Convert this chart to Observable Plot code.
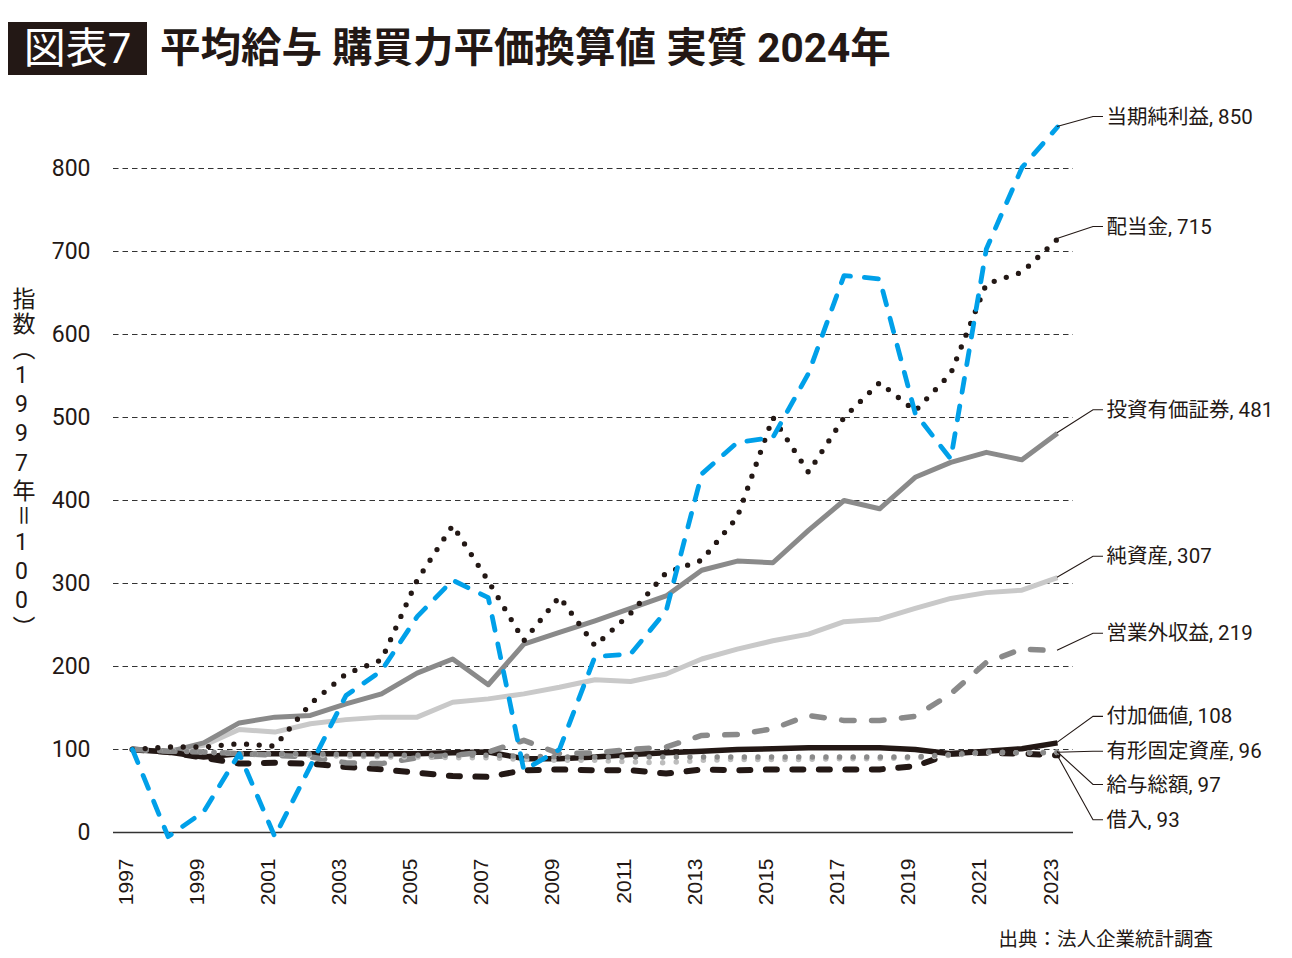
<!DOCTYPE html>
<html><head><meta charset="utf-8">
<script src="https://cdn.jsdelivr.net/npm/d3@7"></script>
<script src="https://cdn.jsdelivr.net/npm/@observablehq/plot@0.6"></script>
<style>
body{margin:0;background:#fff;}
#wrap{position:relative;width:1292px;height:958px;overflow:hidden;font-family:Roboto,"Noto Sans CJK JP",sans-serif;color:#231815;}
#title{position:relative;height:100px;}
.badge{position:absolute;left:8px;top:22px;width:139px;height:53px;background:#231815;color:#fff;font-size:42px;line-height:53px;text-align:center;font-family:Roboto,"Noto Sans CJK JP",sans-serif;}
.main{position:absolute;left:160px;top:22px;line-height:53px;font-size:40.5px;font-weight:700;white-space:nowrap;}
#ylabel{position:absolute;left:8px;top:287px;writing-mode:vertical-rl;text-orientation:upright;font-size:23px;letter-spacing:2.1px;line-height:26px;font-family:Roboto,"Noto Sans CJK JP",sans-serif;}
#caption{position:absolute;top:925px;right:79px;font-size:19.5px;line-height:26px;font-family:"Noto Sans CJK JP",sans-serif;}
#chart svg{display:block;}
</style>
</head><body>
<div id="wrap">
  <div id="title"><span class="badge">図表7</span><span class="main">平均給与 購買力平価換算値 実質 2024年</span></div>
  <div id="chart"></div>
  <div id="ylabel">指数（1997年＝100）</div>
  <div id="caption">出典：法人企業統計調査</div>
</div>
<script>
const years = [1997,1998,1999,2000,2001,2002,2003,2004,2005,2006,2007,2008,2009,2010,2011,2012,2013,2014,2015,2016,2017,2018,2019,2020,2021,2022,2023];
const xTickYears = [1997,1999,2001,2003,2005,2007,2009,2011,2013,2015,2017,2019,2021,2023];
const yTicks = [0,100,200,300,400,500,600,700,800];

const seriesNames = ["純資産","投資有価証券","付加価値","借入","営業外収益","給与総額","有形固定資産","配当金","当期純利益"];

const netAssets   = [100,98,105,124,121,131,136,139,139,157,161,167,175,184,182,191,209,221,231,239,254,257,270,282,289,292,307];
const investments = [100,97,108,132,139,141,155,167,192,209,178,227,241,255,270,285,316,327,325,364,400,390,428,446,458,449,481];
const valueAdded  = [100,97,91,95,95,95,95,95,95,96,97,89,89,91,94,96,98,100,101,102,102,102,100,95,98,101,108];
const borrowing   = [100,97,90,83,84,83,79,76,72,68,67,75,76,75,75,71,76,75,76,76,76,76,80,95,96,95,93];
const nonOpIncome = [100,98,97,95,93,91,84,83,90,93,97,111,95,96,100,103,117,118,125,141,135,135,140,167,205,221,219];
const wages       = [100,99,97,95,95,93,92,91,91,90,90,88,87,87,85,84,87,88,88,88,89,89,90,93,96,96,97];
const fixedAssets = [100,98,97,95,95,95,94,93,93,93,93,92,91,91,91,91,91,91,91,91,91,91,91,94,97,96,96];
const dividends   = [100,103,103,107,104,155,191,208,304,370,303,231,284,225,264,313,328,380,500,434,500,542,508,553,661,675,715];
const netIncome   = [100,-5,25,95,-5,80,165,195,260,304,283,75,100,212,215,267,432,470,476,553,671,667,505,450,703,801,850];

const valuesBySeries = {
  "純資産": netAssets, "投資有価証券": investments, "付加価値": valueAdded, "借入": borrowing,
  "営業外収益": nonOpIncome, "給与総額": wages, "有形固定資産": fixedAssets, "配当金": dividends, "当期純利益": netIncome
};

// styles (not data)
const styles = {
  "純資産":      {stroke:"#c9c9c9", width:5,   dash:null,        cap:"butt"},
  "投資有価証券": {stroke:"#8a8a8a", width:5,   dash:null,        cap:"butt"},
  "付加価値":    {stroke:"#231815", width:5.5, dash:null,        cap:"butt"},
  "借入":        {stroke:"#231815", width:6,   dash:"11,15.5",   cap:"round"},
  "営業外収益":  {stroke:"#8a8a8a", width:5.5, dash:"12.5,17.5", cap:"round"},
  "給与総額":    {stroke:"#bdbdbd", width:5.5, dash:"0,13.6",    cap:"round"},
  "有形固定資産": {stroke:"#8a8a8a", width:5.5, dash:"0,13.6",    cap:"round"},
  "配当金":      {stroke:"#231815", width:5.3, dash:"0,12.7",    cap:"round"},
  "当期純利益":  {stroke:"#00a0e9", width:4.8, dash:"14,14",     cap:"round"}
};
// label vertical offsets in pixels from the series end point
const labelDy = {"当期純利益":-10,"配当金":-12,"投資有価証券":-23,"純資産":-21,"営業外収益":-17,"付加価値":-26,"有形固定資産":-1,"給与総額":33,"借入":65};

const rows = seriesNames.flatMap(name => years.map((year,i) => ({series:name, year, value:valuesBySeries[name][i]})));
const ends = seriesNames.map(name => {
  const v = valuesBySeries[name];
  return {series:name, year:years[years.length-1], value:v[v.length-1], dy:labelDy[name]};
});

const lineMarks = seriesNames.map(name => {
  const s = styles[name];
  return Plot.line(rows.filter(d => d.series === name), {
    x:"year", y:"value", stroke:s.stroke, strokeWidth:s.width,
    strokeDasharray:s.dash ?? undefined, strokeLinecap:s.cap, strokeLinejoin:"round"
  });
});

const leaders = (index, scales) => {
  const g = d3.create("svg:g").attr("fill","none").attr("stroke","#231815").attr("stroke-width",1.1);
  for (const e of ends) {
    const x0 = scales.x(e.year), y0 = scales.y(e.value), y1 = y0 + e.dy;
    g.append("path").attr("d", `M${x0},${y0}L${x0+36},${y1}L${x0+46},${y1}`);
  }
  return g.node();
};

const labelMarks = ends.map(e => Plot.text([e], {
  x:"year", y:"value", dy:e.dy, dx:49, text:d=>`${d.series}, ${d.value}`,
  textAnchor:"start", fontSize:20.5, fill:"#231815"
}));

const plot = Plot.plot({
  width:1292, height:830,
  marginLeft:132, marginRight:235, marginTop:68, marginBottom:98,
  x:{domain:[1997,2023], axis:null},
  y:{domain:[0,800], axis:null},
  style:{fontFamily:'Roboto,"Noto Sans CJK JP",sans-serif', color:"#231815", background:"#fff"},
  marks:[
    Plot.ruleY(yTicks.filter(v => v > 0), {stroke:"#333", strokeWidth:1.1, strokeDasharray:"5.5,4", insetLeft:-19, insetRight:-16}),
    Plot.ruleY([0], {stroke:"#333", strokeWidth:1.6, insetLeft:-19, insetRight:-16}),
    Plot.text(yTicks, {y:d=>d, text:d=>String(d), frameAnchor:"left", textAnchor:"end", dx:-42, fontSize:23, fill:"#231815"}),
    Plot.text(xTickYears, {x:d=>d, text:d=>String(d), frameAnchor:"bottom", rotate:-90, textAnchor:"end", dy:26, fontSize:21, fill:"#231815", fontFamily:'"Liberation Sans",Arial,sans-serif'}),
    ...lineMarks,
    leaders,
    ...labelMarks
  ]
});
document.getElementById("chart").appendChild(plot);
</script>
</body></html>
